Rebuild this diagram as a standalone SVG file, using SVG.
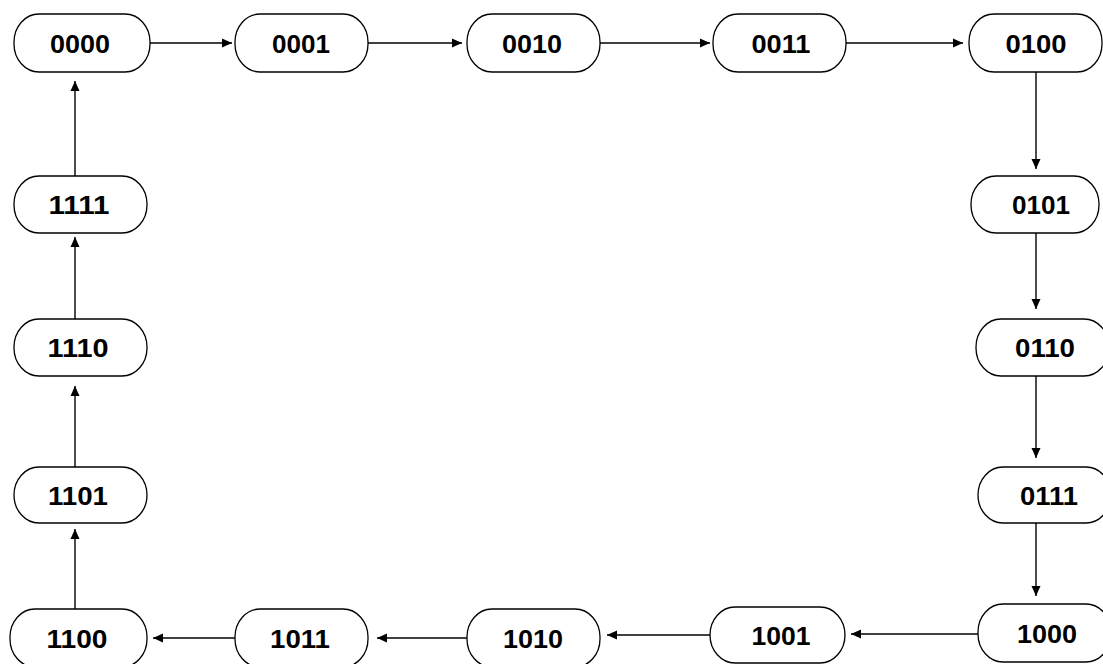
<svg xmlns="http://www.w3.org/2000/svg" width="1103" height="664" viewBox="0 0 1103 664">
<defs>
<marker id="ah" markerUnits="userSpaceOnUse" markerWidth="10" markerHeight="10" refX="10" refY="5" orient="auto">
<path d="M0,0.5 L10,5 L0,9.5 z" fill="#000"/>
</marker>
<style>
.n rect{fill:#fff;stroke:#000;stroke-width:1.3}
.n text{font-family:"Liberation Sans",Arial,sans-serif;font-weight:bold;font-size:26px;text-anchor:middle;fill:#000}
.c line{stroke:#000;stroke-width:1.4;marker-end:url(#ah)}
</style>
</defs>
<rect width="1103" height="664" fill="#fff"/>
<g class="c" id="connectors">
<line x1="150" y1="43" x2="232" y2="43"/>
<line x1="368" y1="43" x2="462" y2="43"/>
<line x1="600" y1="43" x2="710" y2="43"/>
<line x1="846" y1="43" x2="963" y2="43"/>
<line x1="1036" y1="72" x2="1036" y2="169"/>
<line x1="1036" y1="233" x2="1036" y2="309"/>
<line x1="1036" y1="376" x2="1036" y2="458"/>
<line x1="1036" y1="523" x2="1036" y2="596"/>
<line x1="978" y1="634" x2="851" y2="634"/>
<line x1="710" y1="635" x2="607" y2="635"/>
<line x1="467" y1="638" x2="377" y2="638"/>
<line x1="235" y1="638" x2="153" y2="638"/>
<line x1="75" y1="609" x2="75" y2="529"/>
<line x1="75" y1="467" x2="75" y2="386"/>
<line x1="75" y1="319" x2="75" y2="237"/>
<line x1="75" y1="176" x2="75" y2="81"/>
</g>
<g class="n" id="n0000"><rect x="14" y="14" width="136" height="58" rx="25" ry="28"/><text x="80" y="53" textLength="60" lengthAdjust="spacingAndGlyphs">0000</text></g>
<g class="n" id="n0001"><rect x="235" y="14" width="133" height="58" rx="25" ry="28"/><text x="301" y="53" textLength="58" lengthAdjust="spacingAndGlyphs">0001</text></g>
<g class="n" id="n0010"><rect x="467" y="14" width="133" height="58" rx="25" ry="28"/><text x="532" y="53" textLength="60" lengthAdjust="spacingAndGlyphs">0010</text></g>
<g class="n" id="n0011"><rect x="713" y="14" width="133" height="58" rx="25" ry="28"/><text x="781" y="53" textLength="59" lengthAdjust="spacingAndGlyphs">0011</text></g>
<g class="n" id="n0100"><rect x="969" y="14" width="133" height="58" rx="25" ry="28"/><text x="1036" y="53" textLength="61" lengthAdjust="spacingAndGlyphs">0100</text></g>
<g class="n" id="n0101"><rect x="971" y="176" width="128" height="57" rx="25" ry="28"/><text x="1041" y="214" textLength="58" lengthAdjust="spacingAndGlyphs">0101</text></g>
<g class="n" id="n0110"><rect x="976" y="319" width="133" height="57" rx="25" ry="28"/><text x="1045" y="357" textLength="60" lengthAdjust="spacingAndGlyphs">0110</text></g>
<g class="n" id="n0111"><rect x="978" y="467" width="133" height="56" rx="25" ry="28"/><text x="1049" y="505" textLength="58" lengthAdjust="spacingAndGlyphs">0111</text></g>
<g class="n" id="n1000"><rect x="978" y="604" width="133" height="58" rx="25" ry="28"/><text x="1047" y="643" textLength="60" lengthAdjust="spacingAndGlyphs">1000</text></g>
<g class="n" id="n1001"><rect x="710" y="607" width="135" height="56" rx="25" ry="28"/><text x="781" y="645" textLength="59" lengthAdjust="spacingAndGlyphs">1001</text></g>
<g class="n" id="n1010"><rect x="467" y="609" width="133" height="58" rx="25" ry="28"/><text x="533" y="648" textLength="60" lengthAdjust="spacingAndGlyphs">1010</text></g>
<g class="n" id="n1011"><rect x="235" y="609" width="133" height="58" rx="25" ry="28"/><text x="300" y="648" textLength="60" lengthAdjust="spacingAndGlyphs">1011</text></g>
<g class="n" id="n1100"><rect x="10" y="609" width="137" height="58" rx="25" ry="28"/><text x="77" y="648" textLength="61" lengthAdjust="spacingAndGlyphs">1100</text></g>
<g class="n" id="n1101"><rect x="14" y="467" width="133" height="56" rx="25" ry="28"/><text x="78" y="505" textLength="60" lengthAdjust="spacingAndGlyphs">1101</text></g>
<g class="n" id="n1110"><rect x="14" y="319" width="133" height="57" rx="25" ry="28"/><text x="78" y="357" textLength="61" lengthAdjust="spacingAndGlyphs">1110</text></g>
<g class="n" id="n1111"><rect x="14" y="176" width="133" height="57" rx="25" ry="28"/><text x="79" y="214" textLength="61" lengthAdjust="spacingAndGlyphs">1111</text></g>
</svg>
